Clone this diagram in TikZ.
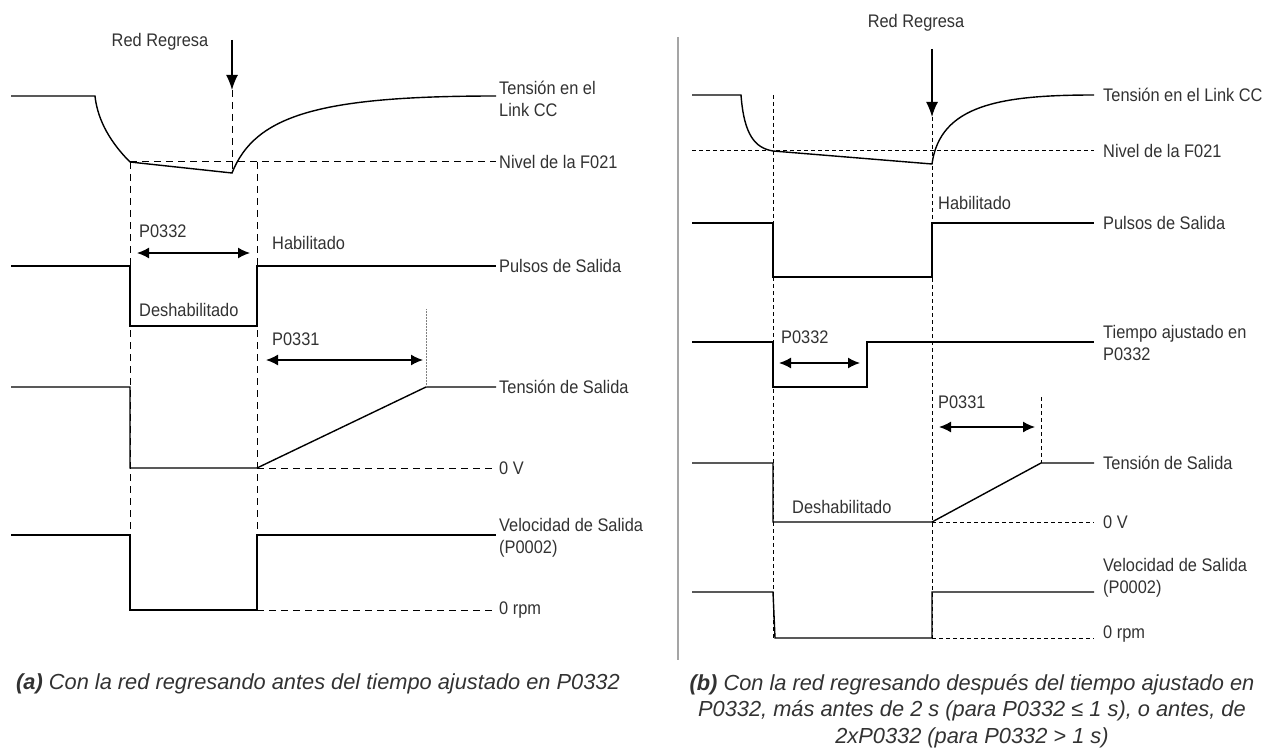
\documentclass[tikz,border=0pt]{standalone}
\usepackage{fontspec}
\setmainfont{Liberation Sans}
\newfontfamily\lblfont{Liberation Sans}[FakeStretch=0.9]
\usepackage{tikz}
\usetikzlibrary{arrows.meta}
\definecolor{txtgray}{RGB}{50,50,50}
\definecolor{sepgray}{RGB}{165,165,165}

\begin{document}
\begin{tikzpicture}[x=1pt,y=-1pt,
    sig/.style={line width=1.4pt},
    guide/.style={line width=1pt, dash pattern=on 7pt off 5pt},
    guideb/.style={line width=1pt, dash pattern=on 4pt off 3pt},
    dimarrow/.style={line width=1.4pt, {Latex[length=12pt,width=11pt]}-{Latex[length=12pt,width=11pt]}},
    downarrow/.style={line width=1.4pt, -{Latex[length=15pt,width=12pt]}},
    lbl/.style={inner sep=0pt, text=txtgray, font=\lblfont\fontsize{18.2}{22.5}\selectfont, align=left},
    legend/.style={inner sep=0pt, text=txtgray, font=\fontsize{21.8}{26.5}\selectfont\itshape, align=center}]

    \useasboundingbox (0,0) rectangle (1279,754);

    % (a) Tension en el Link CC
    \draw[sig] (11,96) -- (95,96) .. controls (97,115) and (106,138) .. (130,162)
        -- (232,173) .. controls (255,115) and (320,96) .. (496,96);
    \draw[guide] (130,162) -- (496,162);
    \node[lbl, anchor=west] (linka) at (499,99) {Tensión en el\\Link CC};
    \node[lbl, anchor=west] (nivela) at (499,162) {Nivel de la F021};

    % (a) Red Regresa
    \node[lbl] (reda) at (160,42) {Red Regresa};
    \coordinate (reda-top) at (232,40);
    \coordinate (reda-tip) at (232,90);
    \draw[downarrow] (reda-top) -- (reda-tip);
    \draw[guide] (reda-tip) -- (232,173);
    \draw[guide] (130,162) -- (130,610);
    \draw[guide] (257,162) -- (257,610);

    % (a) Pulsos de Salida
    \draw[sig] (11,266) -- (130,266) -- (130,326) -- (257,326) -- (257,266) -- (496,266);
    \node[lbl, anchor=west] (pulsa) at (499,266) {Pulsos de Salida};
    \coordinate (p32a-l) at (137,253);
    \coordinate (p32a-r) at (250,253);
    \draw[dimarrow] (p32a-l) -- (p32a-r);
    \node[lbl, anchor=west] (p32a) at (139,231) {P0332};
    \node[lbl, anchor=west] (haba) at (272,243) {Habilitado};
    \node[lbl, anchor=west] (desa) at (139,310) {Deshabilitado};

    % (a) Tension de Salida
    \draw[sig] (11,387) -- (130,387) -- (130,468) -- (257,468) -- (426,387) -- (496,387);
    \draw[guide] (257,468) -- (496,468);
    \draw[gray, line width=0.5pt, densely dotted] (426,309) -- (426,387);
    \coordinate (p31a-l) at (266,360);
    \coordinate (p31a-r) at (423,360);
    \draw[dimarrow] (p31a-l) -- (p31a-r);
    \node[lbl, anchor=west] (p31a) at (272,339) {P0331};
    \node[lbl, anchor=west] (tensa) at (499,387) {Tensión de Salida};
    \node[lbl, anchor=west] (zva) at (499,468) {0 V};

    % (a) Velocidad de Salida
    \draw[sig] (11,535) -- (130,535) -- (130,610) -- (257,610) -- (257,535) -- (496,535);
    \draw[guide] (257,610) -- (496,610);
    \node[lbl, anchor=west] (vela) at (499,538) {Velocidad de Salida\\(P0002)};
    \node[lbl, anchor=west] (rpma) at (499,610) {0 rpm};

    % separador
    \draw[sepgray, line width=2pt] (678,37) -- (678,660);

    % (b) Tension en el Link CC
    \draw[sig] (692,95) -- (741,95) .. controls (744,135) and (755,148) .. (773,151)
        -- (932,164) .. controls (940,105) and (1000,95) .. (1094,95);
    \draw[guideb] (692,151) -- (1094,151);
    \node[lbl, anchor=west] (linkb) at (1103,95) {Tensión en el Link CC};
    \node[lbl, anchor=west] (nivelb) at (1103,151) {Nivel de la F021};

    % (b) Red Regresa
    \node[lbl] (redb) at (916,23) {Red Regresa};
    \coordinate (redb-top) at (932,49);
    \coordinate (redb-tip) at (932,117);
    \draw[downarrow] (redb-top) -- (redb-tip);
    \draw[guideb] (redb-tip) -- (932,638);
    \draw[guideb] (773,95) -- (773,638);

    % (b) Pulsos de Salida
    \draw[sig] (692,223) -- (773,223) -- (773,277) -- (932,277) -- (932,223) -- (1094,223);
    \node[lbl, anchor=west] (habb) at (938,203) {Habilitado};
    \node[lbl, anchor=west] (pulsb) at (1103,223) {Pulsos de Salida};

    % (b) Tiempo ajustado en P0332
    \draw[sig] (692,342) -- (773,342) -- (773,387) -- (867,387) -- (867,342) -- (1094,342);
    \coordinate (p32b-l) at (779,363);
    \coordinate (p32b-r) at (860,363);
    \draw[dimarrow] (p32b-l) -- (p32b-r);
    \node[lbl, anchor=west] (p32b) at (781,337) {P0332};
    \node[lbl, anchor=west] (tiempob) at (1103,343) {Tiempo ajustado en\\P0332};

    % (b) Tension de Salida
    \draw[sig] (692,463) -- (773,463) -- (773,522) -- (932,522) -- (1041,463) -- (1094,463);
    \draw[guideb] (932,522) -- (1094,522);
    \draw[guideb] (1041,397) -- (1041,463);
    \coordinate (p31b-l) at (939,427);
    \coordinate (p31b-r) at (1035,427);
    \draw[dimarrow] (p31b-l) -- (p31b-r);
    \node[lbl, anchor=west] (p31b) at (938,402) {P0331};
    \node[lbl, anchor=west] (desb) at (792,507) {Deshabilitado};
    \node[lbl, anchor=west] (tensb) at (1103,463) {Tensión de Salida};
    \node[lbl, anchor=west] (zvb) at (1103,522) {0 V};

    % (b) Velocidad de Salida
    \draw[sig] (692,592) -- (773,592) -- (775,638) -- (932,638) -- (932,592) -- (1094,592);
    \draw[guideb] (932,638) -- (1094,638);
    \node[lbl, anchor=west] (velb) at (1103,578) {Velocidad de Salida\\(P0002)};
    \node[lbl, anchor=west] (rpmb) at (1103,634) {0 rpm};

    % leyendas
    \node[legend] (capa) at (318,684) {\textbf{(a)} Con la red regresando antes del tiempo ajustado en P0332};
    \node[legend] (capb) at (972,711) {\textbf{(b)} Con la red regresando después del tiempo ajustado en\\
        P0332, más antes de 2 s (para P0332 ≤ 1 s), o antes, de\\
        2xP0332 (para P0332 > 1 s)};
\end{tikzpicture}
\end{document}
